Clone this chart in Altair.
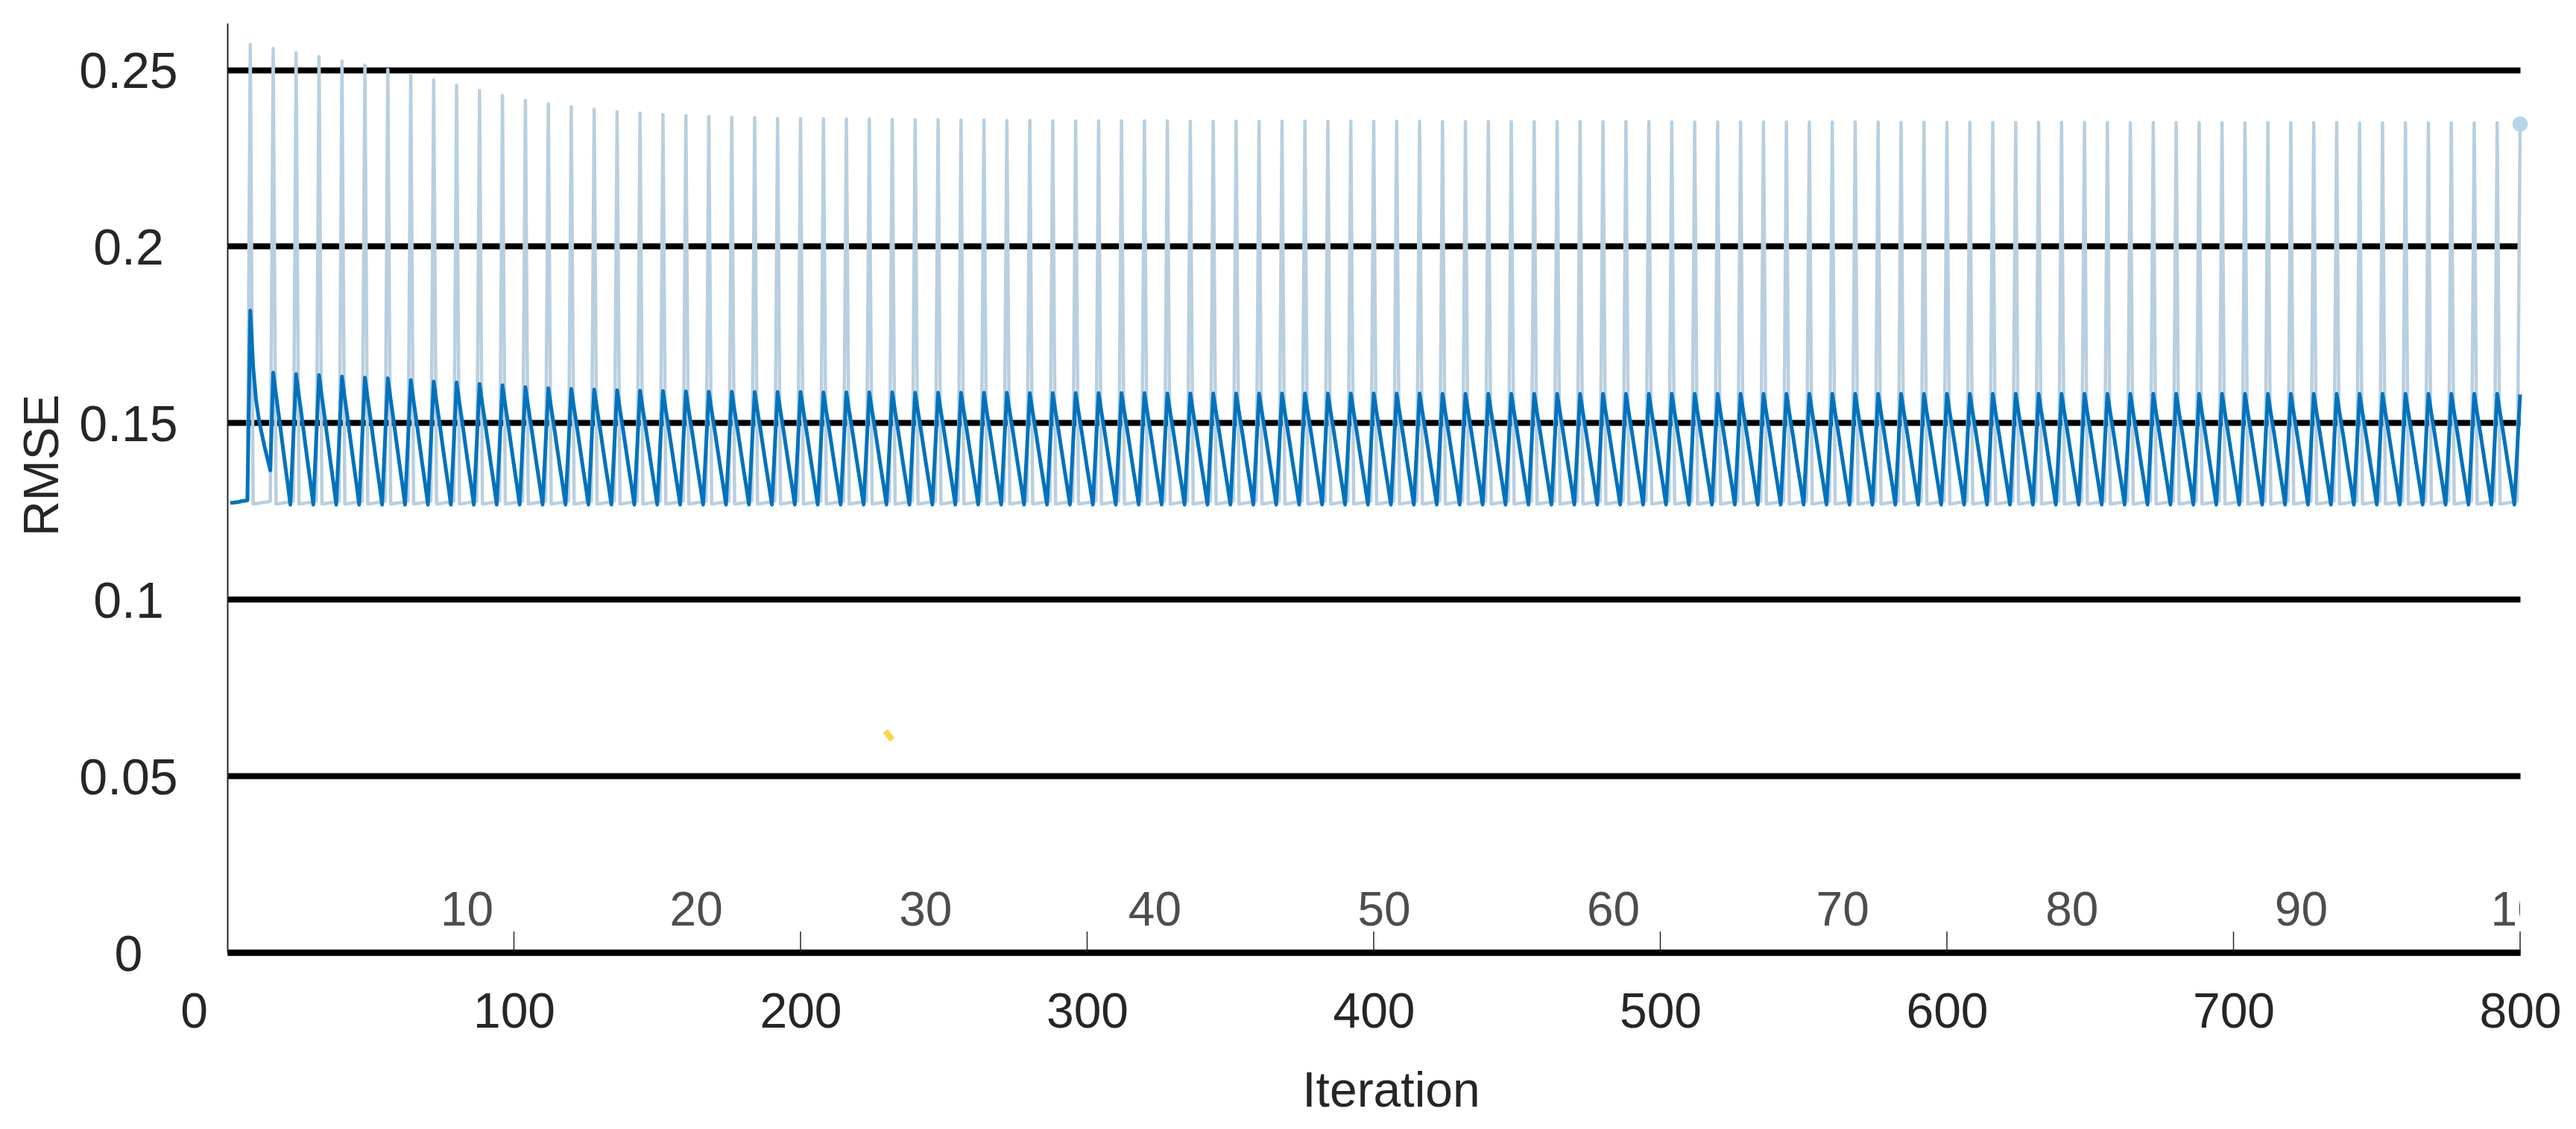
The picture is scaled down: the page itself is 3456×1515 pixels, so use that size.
import altair as alt
import pandas as pd

FONT = "Liberation Sans"

# ---- values ----
# peak RMSE at the last iteration of every epoch (iteration 8, 16, ..., 800)
light_peaks = [
    0.2572, 0.2560, 0.2548, 0.2537, 0.2525, 0.2513, 0.2500, 0.2486, 0.2471, 0.2456,
    0.2441, 0.2427, 0.2413, 0.2403, 0.2395, 0.2388, 0.2381, 0.2377, 0.2373, 0.2370,
    0.2367, 0.2365, 0.2364, 0.2362, 0.2362, 0.2361, 0.2360, 0.2360, 0.2359, 0.2358,
    0.2358, 0.2357, 0.2357, 0.2356, 0.2356, 0.2355, 0.2355, 0.2355, 0.2355, 0.2355,
    0.2355, 0.2354, 0.2354, 0.2354, 0.2354, 0.2354, 0.2354, 0.2354, 0.2354, 0.2354,
    0.2354, 0.2354, 0.2353, 0.2353, 0.2353, 0.2353, 0.2353, 0.2353, 0.2353, 0.2353,
    0.2353, 0.2353, 0.2352, 0.2352, 0.2352, 0.2352, 0.2352, 0.2352, 0.2352, 0.2352,
    0.2352, 0.2352, 0.2351, 0.2351, 0.2351, 0.2351, 0.2351, 0.2351, 0.2351, 0.2351,
    0.2351, 0.2351, 0.2350, 0.2350, 0.2350, 0.2350, 0.2350, 0.2350, 0.2350, 0.2350,
    0.2350, 0.2350, 0.2349, 0.2349, 0.2349, 0.2349, 0.2349, 0.2349, 0.2349, 0.2346,
]
dark_peaks = [
    0.1818, 0.1642, 0.1638, 0.1635, 0.1631, 0.1628, 0.1626, 0.1621, 0.1617, 0.1614,
    0.1610, 0.1606, 0.1601, 0.1598, 0.1596, 0.1594, 0.1592, 0.1591, 0.1590, 0.1589,
    0.1588, 0.1588, 0.1587, 0.1587, 0.1587, 0.1586, 0.1586, 0.1586, 0.1586, 0.1585,
    0.1585, 0.1585, 0.1585, 0.1585, 0.1584, 0.1584, 0.1584, 0.1584, 0.1584, 0.1584,
    0.1583, 0.1583, 0.1583, 0.1583, 0.1583, 0.1583, 0.1583, 0.1583, 0.1583, 0.1583,
    0.1583, 0.1583, 0.1582, 0.1582, 0.1582, 0.1582, 0.1582, 0.1582, 0.1582, 0.1582,
    0.1582, 0.1582, 0.1582, 0.1582, 0.1582, 0.1582, 0.1582, 0.1582, 0.1582, 0.1582,
    0.1582, 0.1582, 0.1582, 0.1582, 0.1582, 0.1582, 0.1582, 0.1582, 0.1582, 0.1582,
    0.1582, 0.1582, 0.1582, 0.1582, 0.1582, 0.1582, 0.1582, 0.1582, 0.1582, 0.1582,
    0.1582, 0.1582, 0.1582, 0.1582, 0.1582, 0.1582, 0.1582, 0.1582, 0.1582, 0.1580,
]
# light series between spikes (offsets 1..7 after each spike)
light_baseline = [0.1270, 0.1271, 0.1272, 0.1274, 0.1275, 0.1276, 0.1278]
# dark series, iterations 1..7 and the first decay (iterations 9..15)
dark_start = [0.1273, 0.1274, 0.1275, 0.1276, 0.1278, 0.1279, 0.1280]
dark_first_decay = [0.1660, 0.1566, 0.1510, 0.1470, 0.1432, 0.1398, 0.1365]
# dark sawtooth profile within an epoch (share of peak height above the minimum)
dark_min = 0.1268
dark_profile = [0.83, 0.67, 0.50, 0.33, 0.17, 0.0]
dark_rise = 0.5

yellow_x = [229.6, 232.0]
yellow_y = [0.0627, 0.0602]

x_ticks = [0, 100, 200, 300, 400, 500, 600, 700, 800]
inner_ticks = [100, 200, 300, 400, 500, 600, 700, 800]
y_ticks = [0, 0.05, 0.1, 0.15, 0.2, 0.25]
epoch_labels = [10, 20, 30, 40, 50, 60, 70, 80, 90, 100]

# ---- build the tables ----
rows = []
for i in range(1, 8):
    rows.append((i, dark_start[i - 1], dark_start[i - 1]))
for j in range(1, 101):
    rows.append((8 * j, light_peaks[j - 1], dark_peaks[j - 1]))
    if j == 100:
        break
    for r in range(1, 8):
        lv = light_baseline[r - 1]
        if j == 1:
            dv = dark_first_decay[r - 1]
        elif r <= 6:
            dv = dark_min + (dark_peaks[j - 1] - dark_min) * dark_profile[r - 1]
        else:
            dv = dark_min + (dark_peaks[j] - dark_min) * dark_rise
        rows.append((8 * j + r, lv, dv))

df = pd.DataFrame(rows, columns=["iteration", "light", "dark"])
light_df = pd.DataFrame({"iteration": df["iteration"], "rmse": df["light"]})
dark_df = pd.DataFrame({"iteration": df["iteration"], "rmse": df["dark"]})
end_df = pd.DataFrame({"iteration": [800], "rmse": [light_peaks[-1]]})
yellow_df = pd.DataFrame({"iteration": yellow_x, "rmse": yellow_y})
ticks_df = pd.DataFrame({"iteration": inner_ticks})
labels_df = pd.DataFrame({"epoch": epoch_labels})

W, H = 3076, 1247

x_enc = alt.X(
    "iteration:Q",
    scale=alt.Scale(domain=[0, 800], nice=False, zero=False),
    axis=alt.Axis(
        values=x_ticks,
        format="d",
        title="Iteration",
        labelFont=FONT,
        labelFontSize=66,
        labelColor="#262626",
        labelBaseline="middle",
        labelPadding=80,
        labelOffset={"condition": {"test": "datum.value === 0", "value": -45}, "value": 0},
        labelFlush=False,
        labelOverlap=False,
        ticks=False,
        tickSize=0,
        grid=False,
        domain=True,
        domainColor="#000000",
        domainWidth=8,
        titleFont=FONT,
        titleFontSize=66,
        titleFontWeight="normal",
        titleColor="#262626",
        titleX=1561,
        titleY=186,
        titleAlign="center",
        titleBaseline="middle",
    ),
)
y_enc = alt.Y(
    "rmse:Q",
    scale=alt.Scale(domain=[0, 0.2632], nice=False, zero=False),
    axis=alt.Axis(
        values=y_ticks,
        format="~g",
        title="RMSE",
        labelFont=FONT,
        labelFontSize=68,
        labelColor="#262626",
        labelAlign="center",
        labelBaseline="middle",
        labelPadding=133,
        labelOffset=4,
        labelOverlap=False,
        labelFlush=False,
        ticks=False,
        tickSize=0,
        domain=True,
        domainColor="#262626",
        domainWidth=2,
        grid=True,
        gridColor="#000000",
        gridWidth=8,
        gridOpacity=1,
        titleFont=FONT,
        titleFontSize=66,
        titleFontWeight="normal",
        titleColor="#262626",
        titleX=-248,
        titleY=593,
        titleAlign="center",
        titleBaseline="middle",
    ),
)

light_line = alt.Chart(light_df).mark_line(
    color="#b9cfdf", strokeWidth=4.5, strokeJoin="round"
).encode(x=x_enc, y=y_enc, order="iteration:Q")

dark_line = alt.Chart(dark_df).mark_line(
    color="#0072bd", strokeWidth=5, strokeJoin="round"
).encode(x=x_enc, y=y_enc, order="iteration:Q")

yellow_line = alt.Chart(yellow_df).mark_line(
    color="#f9d648", strokeWidth=8, strokeCap="butt"
).encode(x=x_enc, y=y_enc)

end_point = alt.Chart(end_df).mark_point(
    filled=True, color="#b4d5eb", size=430, opacity=1
).encode(x=x_enc, y=y_enc)

tick_rules = alt.Chart(ticks_df).mark_rule(color="#262626", strokeWidth=1.5).encode(
    x=x_enc, y=alt.datum(0), y2=alt.datum(0.0059)
)

main = alt.layer(light_line, dark_line, yellow_line, end_point, tick_rules)

epoch_text = alt.Chart(labels_df).mark_text(
    font=FONT, fontSize=64, color="#4d4d4d", dx=14, align="center",
    baseline="middle", clip=True
).encode(
    x=alt.X("epoch:Q", scale=alt.Scale(domain=[0, 100], nice=False, zero=False), axis=None),
    y=alt.datum(0.0116),
    text=alt.Text("epoch:Q", format="d"),
)

chart = (
    alt.layer(main, epoch_text)
    .resolve_scale(x="independent")
    .properties(
        width=W,
        height=H,
        autosize=alt.AutoSizeParams(type="none"),
        padding={"left": 297, "top": 23, "right": 56, "bottom": 226},
        background="white",
    )
    .configure_view(stroke=None)
)

chart.save("out.html", embed_options={"renderer": "svg", "actions": False})
